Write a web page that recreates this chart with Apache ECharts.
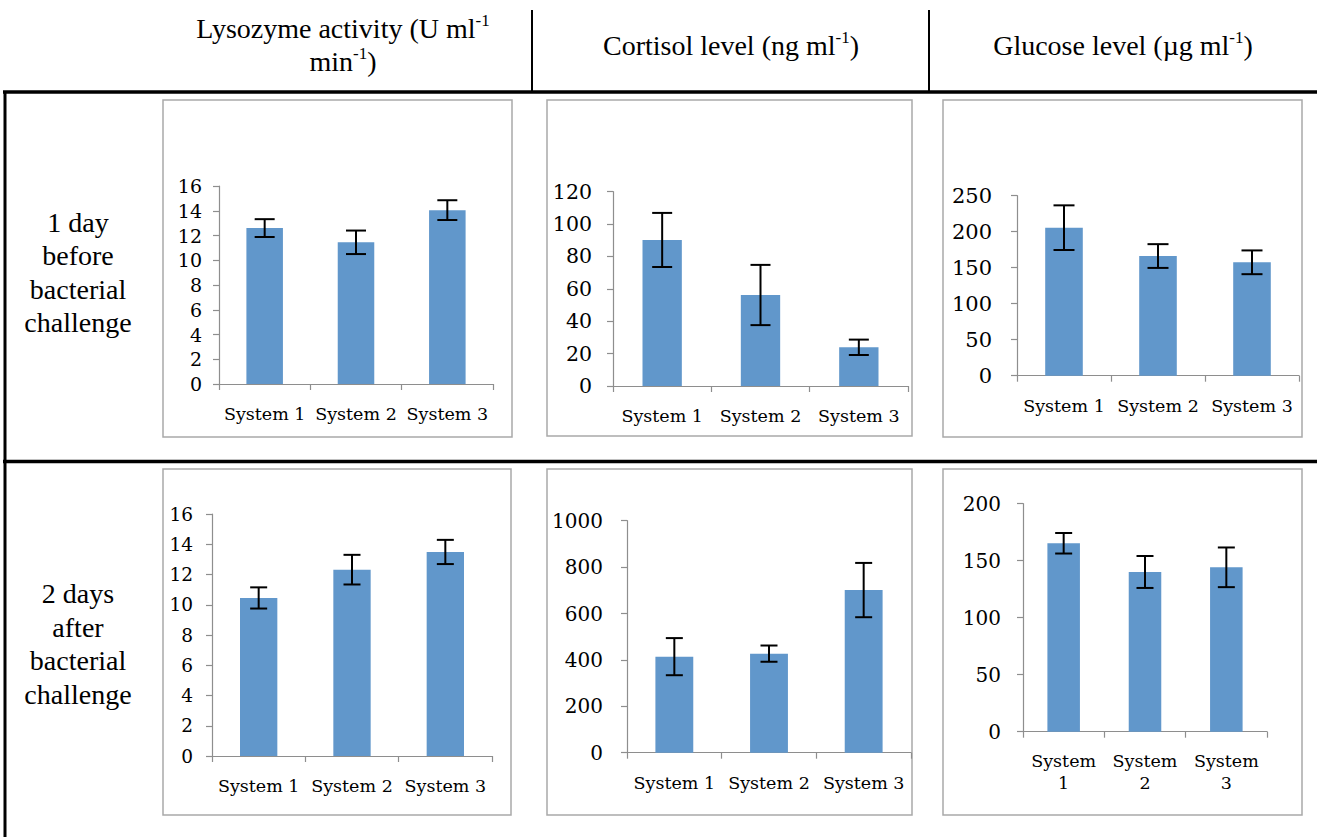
<!DOCTYPE html>
<html>
<head>
<meta charset="utf-8">
<script src="https://cdn.jsdelivr.net/npm/echarts@6/dist/echarts.min.js"></script>
<style>
  html, body { margin: 0; padding: 0; background: #fff; }
  #chart { width: 1317px; height: 837px; }
</style>
</head>
<body>
<div id="chart"></div>
<script>
// Categories shared by all six panels
const categories = ['System 1', 'System 2', 'System 3'];

// 1 day before bacterial challenge
const lysozymeBefore = [12.6, 11.45, 14.05];
const lysozymeBeforeErr = [0.72, 0.95, 0.8];
const cortisolBefore = [90.2, 56.2, 23.9];
const cortisolBeforeErr = [16.7, 18.6, 4.75];
const glucoseBefore = [205.6, 166.2, 157.5];
const glucoseBeforeErr = [31, 16.5, 16.5];

// 2 days after bacterial challenge
const lysozymeAfter = [10.45, 12.32, 13.49];
const lysozymeAfterErr = [0.7, 0.98, 0.8];
const cortisolAfter = [414, 427, 701];
const cortisolAfterErr = [80, 35, 117];
const glucoseAfter = [165.3, 140.1, 144.2];
const glucoseAfterErr = [9, 14, 17.4];

// Y axis ranges
const yMaxes = [16, 120, 250, 16, 1000, 200];
const ySteps = [2, 20, 50, 2, 200, 50];

// Column headers and row labels
const headers = [
  'Lysozyme activity (U ml{s|-1}\nmin{s|-1})',
  'Cortisol level (ng ml{s|-1})',
  'Glucose level (\u00b5g ml{s|-1})'
];
const rowLabels = [
  '1 day\nbefore\nbacterial\nchallenge',
  '2 days\nafter\nbacterial\nchallenge'
];

const panels = [
  { values: lysozymeBefore, errors: lysozymeBeforeErr },
  { values: cortisolBefore, errors: cortisolBeforeErr },
  { values: glucoseBefore, errors: glucoseBeforeErr },
  { values: lysozymeAfter, errors: lysozymeAfterErr },
  { values: cortisolAfter, errors: cortisolAfterErr },
  { values: glucoseAfter, errors: glucoseAfterErr }
];

// Plot-area geometry for each panel
const layout = [
  { left: 219, top: 186,   width: 274, height: 198,   yFont: 19,   yMargin: 17, cap: 20 },
  { left: 613, top: 191.7, width: 295, height: 194.3, yFont: 20.5, yMargin: 21, cap: 20 },
  { left: 1017, top: 195.7, width: 282, height: 180,  yFont: 21,   yMargin: 25, cap: 21 },
  { left: 212, top: 514,   width: 280, height: 242,   yFont: 18.5, yMargin: 19, cap: 17 },
  { left: 627, top: 520.7, width: 284, height: 232,   yFont: 20,   yMargin: 24, cap: 17 },
  { left: 1023, top: 503.7, width: 244, height: 228,  yFont: 20,   yMargin: 22, cap: 17 }
];

// Gray chart frames
const frames = [
  [163, 100, 349, 337], [547, 100, 365, 336], [943, 100, 359, 337],
  [163, 469, 348, 346], [547, 469, 365, 346], [943, 469, 359, 346]
];

const axisGray = '#8e8e8e';
const barBlue = '#6197cb';
const chartFont = 'DejaVu Serif';
const tableFont = 'Liberation Serif';

const grids = [], xAxes = [], yAxes = [], series = [];

panels.forEach((p, i) => {
  const L = layout[i];
  grids.push({ left: L.left, top: L.top, width: L.width, height: L.height, containLabel: false });
  xAxes.push({
    type: 'category',
    gridIndex: i,
    data: categories,
    boundaryGap: true,
    axisLine: { lineStyle: { color: axisGray, width: 1.2 } },
    axisTick: { show: true, length: 6, alignWithLabel: false, lineStyle: { color: axisGray, width: 1.2 } },
    axisLabel: {
      color: '#000',
      fontFamily: chartFont,
      fontSize: 17.5,
      lineHeight: 22,
      margin: i === 5 ? 18 : 19,
      interval: 0,
      formatter: i === 5 ? (v => v.replace(' ', '\n')) : (v => v)
    },
    splitLine: { show: false }
  });
  yAxes.push({
    type: 'value',
    gridIndex: i,
    min: 0,
    max: yMaxes[i],
    interval: ySteps[i],
    axisLine: { show: true, lineStyle: { color: axisGray, width: 1.2 } },
    axisTick: { show: true, length: 6, lineStyle: { color: axisGray, width: 1.2 } },
    axisLabel: {
      color: '#000',
      fontFamily: chartFont,
      fontSize: L.yFont,
      margin: L.yMargin,
      formatter: v => String(v)
    },
    splitLine: { show: false }
  });
  series.push({
    type: 'bar',
    xAxisIndex: i,
    yAxisIndex: i,
    data: p.values,
    barWidth: '40%',
    itemStyle: { color: barBlue },
    silent: true
  });
  series.push({
    type: 'custom',
    xAxisIndex: i,
    yAxisIndex: i,
    z: 5,
    silent: true,
    data: p.values.map((v, k) => [k, v, p.errors[k]]),
    encode: { x: 0, y: 1 },
    renderItem: (params, api) => {
      const idx = api.value(0), v = api.value(1), e = api.value(2);
      const hi = api.coord([idx, v + e]);
      const lo = api.coord([idx, v - e]);
      const x = hi[0], h = L.cap / 2;
      const st = { stroke: '#000', lineWidth: 2 };
      return {
        type: 'group',
        children: [
          { type: 'line', shape: { x1: x, y1: hi[1], x2: x, y2: lo[1] }, style: st },
          { type: 'line', shape: { x1: x - h, y1: hi[1], x2: x + h, y2: hi[1] }, style: st },
          { type: 'line', shape: { x1: x - h, y1: lo[1], x2: x + h, y2: lo[1] }, style: st }
        ]
      };
    }
  });
});

// Table rules and chart frames
const graphics = [];
frames.forEach(f => graphics.push({
  type: 'rect',
  shape: { x: f[0], y: f[1], width: f[2], height: f[3] },
  style: { fill: 'none', stroke: '#a9a9a9', lineWidth: 1.5 },
  silent: true
}));
const rule = (x1, y1, x2, y2, w) => graphics.push({
  type: 'line', shape: { x1, y1, x2, y2 }, style: { stroke: '#000', lineWidth: w }, silent: true
});
rule(532, 10, 532, 91, 2);
rule(929, 10, 929, 91, 2);
rule(3, 92, 1317, 92, 3.5);
rule(3, 461.5, 1317, 461.5, 3.5);
rule(5, 92, 5, 837, 3);

// Header and row-label text as title components
const titles = [];
const headerPos = [[343, 45], [731, 45], [1123, 45]];
headers.forEach((t, i) => titles.push({
  text: t,
  left: headerPos[i][0],
  top: headerPos[i][1],
  textAlign: 'center',
  textVerticalAlign: 'middle',
  padding: 0,
  textStyle: {
    color: '#000',
    fontFamily: tableFont,
    fontSize: 28,
    fontWeight: 'normal',
    lineHeight: 33,
    rich: {
      s: { color: '#000', fontFamily: tableFont, fontSize: 17, lineHeight: 14, verticalAlign: 'top' }
    }
  }
}));
const rowPos = [[78, 272.5], [78, 644]];
rowLabels.forEach((t, i) => titles.push({
  text: t,
  left: rowPos[i][0],
  top: rowPos[i][1],
  textAlign: 'center',
  textVerticalAlign: 'middle',
  padding: 0,
  textStyle: {
    color: '#000',
    fontFamily: tableFont,
    fontSize: 28,
    fontWeight: 'normal',
    lineHeight: 33.5
  }
}));

const chart = echarts.init(document.getElementById('chart'), null, { renderer: 'svg' });
chart.setOption({
  animation: false,
  backgroundColor: '#fff',
  title: titles,
  grid: grids,
  xAxis: xAxes,
  yAxis: yAxes,
  series: series,
  graphic: { elements: graphics }
});
</script>
</body>
</html>
